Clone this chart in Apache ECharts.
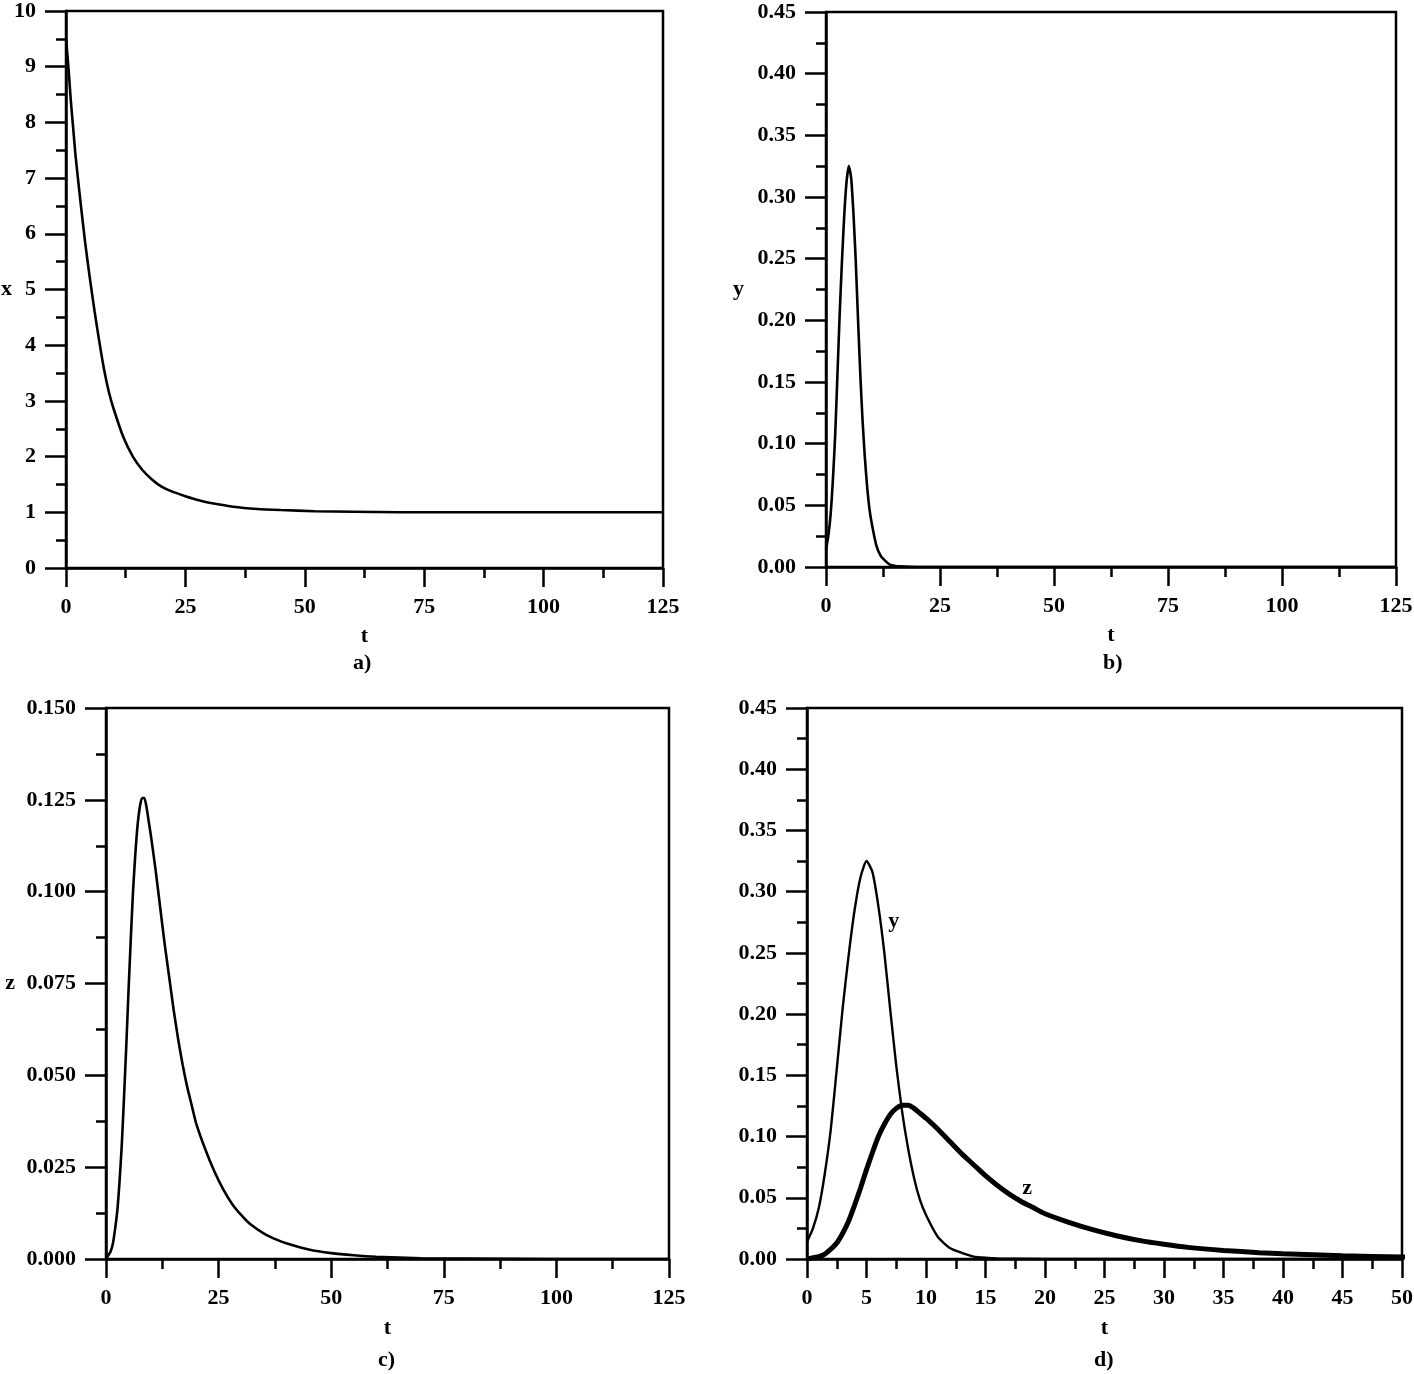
<!DOCTYPE html>
<html><head><meta charset="utf-8">
<script src="https://cdn.jsdelivr.net/npm/echarts@6/dist/echarts.min.js"></script>
<style>html,body{margin:0;padding:0;background:#fff}#c{width:1414px;height:1374px}</style>
</head><body><div id="c"></div>
<script>
// panel a: x(t)
const tX = [0,0.5,1,1.5,2,3,4,5,6,7,8,9,10,12,14,16,18,20,22,25,28,30,35,40,45,52,60,70,125];
const xVals = [9.5,9.0,8.4,7.9,7.4,6.6,5.85,5.2,4.6,4.05,3.55,3.15,2.85,2.35,2.0,1.76,1.59,1.46,1.38,1.29,1.21,1.17,1.1,1.06,1.04,1.02,1.01,1.0,1.0];
// panel b / d: y(t)
const tY = [0,0.5,1,1.5,2,2.5,3,3.5,4,4.5,5,5.5,6,6.5,7,7.5,8,8.5,9,9.5,10,11,12,13,14,15,16,20,33,125];
const yVals = [0.014,0.025,0.042,0.07,0.106,0.155,0.205,0.248,0.285,0.312,0.325,0.316,0.288,0.25,0.203,0.158,0.12,0.09,0.066,0.048,0.036,0.018,0.009,0.005,0.002,0.001,0.0005,0,0,0];
// panel c / d: z(t)
const tZ = [0,0.5,1,1.5,2,2.5,3,3.5,4,4.5,5,5.5,6,6.5,7,7.5,8,8.5,9,9.5,10,11,12,13,14,15,16,17,18,19,20,22,24,26,28,30,32,35,38,40,45,50,55,60,70,80,100,125];
const zVals = [0,0.001,0.002,0.004,0.008,0.013,0.021,0.031,0.044,0.058,0.073,0.087,0.1,0.11,0.118,0.123,0.1255,0.1255,0.123,0.119,0.115,0.106,0.096,0.086,0.077,0.068,0.06,0.053,0.047,0.042,0.037,0.03,0.024,0.019,0.015,0.012,0.0095,0.007,0.0052,0.0043,0.0026,0.0016,0.001,0.0006,0.0002,0.0001,0,0];

const panelLabels = ['a)','b)','c)','d)'];
const xTicksLong = {min:0,max:125,interval:25};
const xTicksShort = {min:0,max:50,interval:5};

const pairs = (ts, vs) => ts.map((t,i)=>[t,vs[i]]);
const FONT = 'Liberation Serif';
const lab = {color:'#000',fontFamily:FONT,fontWeight:'bold',fontSize:22};
const lw = 2.5;

function xAxis(gi, range, name, gap){
  return {type:'value',gridIndex:gi,min:range.min,max:range.max,interval:range.interval,
    name:name,nameLocation:'middle',nameGap:gap,nameTextStyle:lab,nameMoveOverlap:false,
    axisLine:{onZero:false,lineStyle:{color:'#000',width:lw}},
    axisTick:{show:true,inside:false,length:19,lineStyle:{color:'#000',width:lw}},
    minorTick:{show:true,splitNumber:2,length:10,lineStyle:{color:'#000',width:lw}},
    splitLine:{show:false},
    axisLabel:Object.assign({margin:28},lab)};
}
function yAxis(gi, min, max, interval, dec, name, gap){
  return {type:'value',gridIndex:gi,min:min,max:max,interval:interval,
    name:name,nameLocation:'middle',nameRotate:0,nameGap:gap,nameTextStyle:lab,nameMoveOverlap:false,
    axisLine:{onZero:false,lineStyle:{color:'#000',width:lw}},
    axisTick:{show:true,inside:false,length:21,lineStyle:{color:'#000',width:lw}},
    minorTick:{show:true,splitNumber:2,length:10,lineStyle:{color:'#000',width:lw}},
    splitLine:{show:false},
    axisLabel:Object.assign({margin:30,formatter:v=>Number(v).toFixed(dec)},lab)};
}
const grids = [
  {left:66,top:11,width:597,height:557},
  {left:826,top:12,width:570,height:555},
  {left:106,top:708,width:563,height:551},
  {left:807,top:708,width:595,height:551}
].map(g=>Object.assign({show:true,borderColor:'#000',borderWidth:lw,backgroundColor:'#fff',containLabel:false,outerBoundsMode:'none'},g));

const line = (xi, data, w, extra) => Object.assign({type:'line',xAxisIndex:xi,yAxisIndex:xi,data:data,
  showSymbol:false,smooth:0.2,lineStyle:{color:'#000',width:w},animation:false,silent:true}, extra||{});

const option = {
  backgroundColor:'#fff',
  animation:false,
  grid:grids,
  xAxis:[xAxis(0,xTicksLong,'t',57),xAxis(1,xTicksLong,'t',57),xAxis(2,xTicksLong,'t',58),xAxis(3,xTicksShort,'t',58)],
  yAxis:[yAxis(0,0,10,1,0,'x',54),yAxis(1,0,0.45,0.05,2,'y',82),yAxis(2,0,0.15,0.025,3,'z',91),yAxis(3,0,0.45,0.05,2,'',0)],
  series:[
    line(0,pairs(tX,xVals),2.6),
    line(1,pairs(tY,yVals),2.6),
    line(2,pairs(tZ,zVals),2.6),
    line(3,pairs(tY,yVals),2.4,{markPoint:{symbol:'circle',symbolSize:0,data:[{coord:[7.3,0.276],label:{show:true,formatter:'y',position:'inside',color:'#000',fontFamily:FONT,fontWeight:'bold',fontSize:22}}]}}),
    line(3,pairs(tZ,zVals),5,{markPoint:{symbol:'circle',symbolSize:0,data:[{coord:[18.5,0.058],label:{show:true,formatter:'z',position:'inside',color:'#000',fontFamily:FONT,fontWeight:'bold',fontSize:22}}]}})
  ],
  graphic:[
    {type:'text',left:353,top:652,style:{text:panelLabels[0],font:'bold 22px "Liberation Serif"',fill:'#000'}},
    {type:'text',left:1103,top:652,style:{text:panelLabels[1],font:'bold 22px "Liberation Serif"',fill:'#000'}},
    {type:'text',left:378,top:1349,style:{text:panelLabels[2],font:'bold 22px "Liberation Serif"',fill:'#000'}},
    {type:'text',left:1094,top:1349,style:{text:panelLabels[3],font:'bold 22px "Liberation Serif"',fill:'#000'}}
  ]
};
const chart = echarts.init(document.getElementById('c'),null,{renderer:'canvas'});
chart.setOption(option);
</script></body></html>
